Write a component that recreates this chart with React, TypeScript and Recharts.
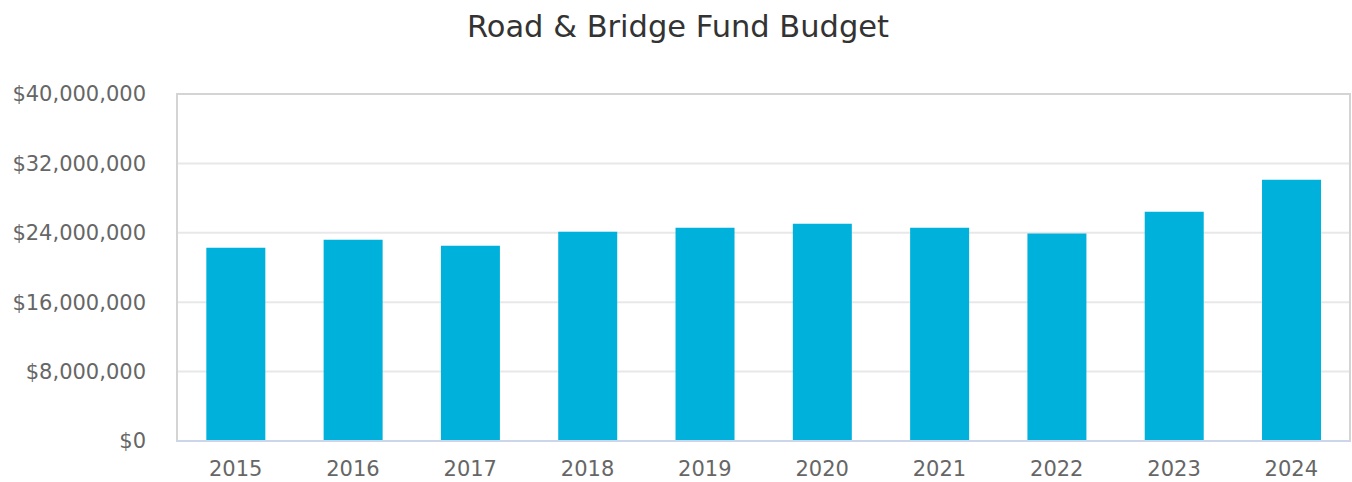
import { BarChart, Bar, XAxis, YAxis, CartesianGrid, ReferenceArea } from "recharts";

const years = ["2015", "2016", "2017", "2018", "2019", "2020", "2021", "2022", "2023", "2024"];
const budget = [22270000, 23190000, 22500000, 24110000, 24580000, 25040000, 24580000, 23920000, 26420000, 30110000];
const yTicks = [0, 8000000, 16000000, 24000000, 32000000, 40000000];

const data = years.map((year, i) => ({ year, budget: budget[i] }));

const font = "'DejaVu Sans', Verdana, sans-serif";

const money = (v: number) => "$" + v.toLocaleString("en-US");

export default function App() {
  return (
    <div style={{ position: "absolute", left: 0, top: 0, width: 1352, height: 482, background: "#fff", fontFamily: font }}>
      <div
        style={{
          position: "absolute",
          left: 0,
          top: 8,
          width: 1356,
          textAlign: "center",
          fontSize: 30.5,
          lineHeight: "38px",
          color: "#333333",
        }}
      >
        Road &amp; Bridge Fund Budget
      </div>
      <BarChart
        width={1352}
        height={482}
        data={data}
        margin={{ top: 94, right: 2, bottom: 0, left: 0 }}
        barCategoryGap="25%"
      >
        <CartesianGrid horizontal vertical={false} stroke="#e8e8e8" strokeWidth={2} />
        <ReferenceArea y1={0} y2={40000000} fill="none" stroke="#d4d4d4" strokeWidth={2} ifOverflow="visible" />
        <YAxis
          width={177}
          domain={[0, 40000000]}
          ticks={yTicks}
          tickFormatter={money}
          tickLine={false}
          axisLine={false}
          tickSize={0}
          tickMargin={31}
          tick={{ fontSize: 21, fill: "#666666", fontFamily: font }}
          interval={0}
        />
        <XAxis
          dataKey="year"
          height={41}
          tickLine={false}
          axisLine={{ stroke: "#ccd6eb", strokeWidth: 2 }}
          tickSize={0}
          tickMargin={20}
          tick={{ fontSize: 21, fill: "#666666", fontFamily: font }}
          interval={0}
        />
        <Bar dataKey="budget" fill="#00b1db" isAnimationActive={false} />
      </BarChart>
    </div>
  );
}
